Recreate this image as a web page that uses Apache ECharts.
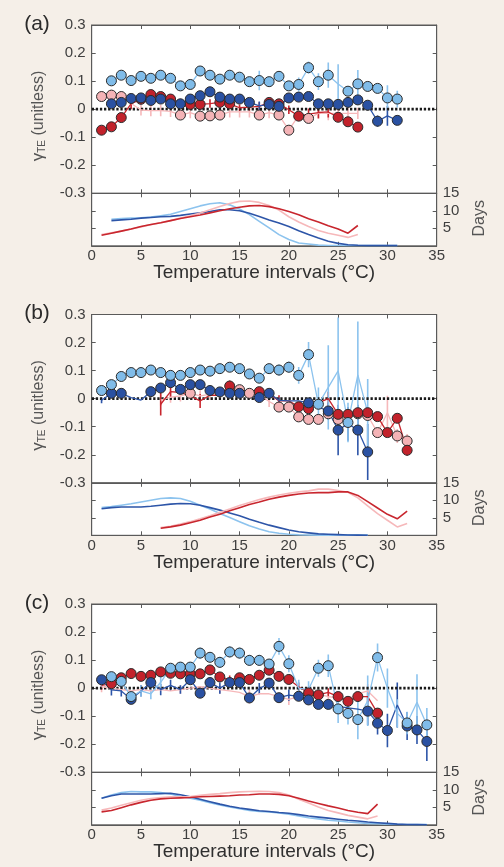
<!DOCTYPE html>
<html><head><meta charset="utf-8">
<script src="https://cdn.jsdelivr.net/npm/echarts@6/dist/echarts.min.js"></script>
<style>html,body{margin:0;padding:0;background:#f5efe8}#c{width:504px;height:867px}</style>
</head><body><div id="c"></div>
<script>
// ---------- DATA (index 0 = 1 °C interval) ----------
const xTicks = [0, 5, 10, 15, 20, 25, 30, 35];
const yTicksUpper = [-0.3, -0.2, -0.1, 0, 0.1, 0.2, 0.3];
const yTicksDays = [5, 10, 15];

// Panel (a) – gamma_TE
const a_lb = [null,0.101,0.121,0.102,0.117,0.110,0.121,0.110,0.083,0.088,0.136,0.121,0.107,0.121,0.114,0.098,0.102,0.098,0.117,0.083,0.088,0.148,0.098,0.121,0.090,0.064,0.090,0.081,0.074,0.040,0.036];
const a_lb_sig = [2,3,4,5,6,7,8,9,10,11,12,13,14,15,16,17,18,19,20,21,22,23,24,26,27,28,29,30,31];
const a_lb_err = [[17,0.035],[21,0.025],[22,0.022],[23,0.03],[24,0.045],[25,0.07],[27,0.05],[30,0.045],[31,0.03]];
const a_db = [null,0.019,0.024,0.038,0.040,0.031,0.036,0.019,0.019,0.036,0.048,0.062,0.043,0.036,0.036,0.024,0.012,0.017,0.010,0.040,0.043,0.045,0.019,0.019,0.017,0.024,0.033,0.014,-0.043,-0.024,-0.040];
const a_db_sig = [2,3,4,5,6,7,8,9,10,11,12,13,14,15,16,18,19,20,21,22,23,24,25,26,27,28,29,31];
const a_db_err = [[17,0.015],[29,0.02],[30,0.035]];
const a_red = [-0.075,-0.063,-0.030,0.020,0.035,0.052,0.045,0.036,0.022,0.017,0.017,0.020,0.024,0.019,0.005,0.007,0.010,0.024,0.019,-0.002,-0.025,-0.018,-0.012,-0.010,-0.029,-0.045,-0.064];
const a_red_sig = [1,2,3,5,6,7,8,10,11,13,14,18,19,21,25,26,27];
const a_red_err = [[1,0.015],[4,0.02],[9,0.015],[12,0.015],[15,0.012],[16,0.012],[17,0.015],[20,0.015],[22,0.02],[23,0.02],[24,0.02]];
const a_pink = [0.045,0.050,0.045,0.020,-0.003,-0.005,-0.005,-0.008,-0.021,-0.012,-0.025,-0.024,-0.021,-0.010,-0.010,-0.010,-0.021,-0.012,-0.021,-0.075,-0.022,-0.033,-0.015,-0.015,-0.015,-0.015,-0.015];
const a_pink_sig = [1,2,3,9,11,12,13,17,19,20,22];
const a_pink_err = [[4,0.02],[5,0.02],[6,0.02],[7,0.02],[8,0.02],[10,0.02],[14,0.02],[15,0.02],[16,0.02],[18,0.02],[21,0.02],[23,0.02],[24,0.025],[25,0.02],[26,0.02],[27,0.02]];
// Panel (a) – days
const a_lb_days = [null,7.6,7.8,7.9,8.0,8.2,8.6,9.0,9.8,10.6,11.4,12.0,12.3,11.7,10.5,8.9,7.0,5.1,3.2,1.8,0.8,0.5,0.2,0.1,0.1,0.05,0.05,0.05,0.05,0.05,0.05];
const a_db_days = [null,7.2,7.4,7.6,7.9,8.1,8.3,8.4,8.7,9.1,9.4,9.8,10.3,10.3,10.0,9.3,8.4,7.4,6.5,5.5,4.3,3.2,2.2,1.3,0.7,0.3,0.15,0.05,0.05,0.05,0.05];
const a_red_days = [3.0,3.6,4.2,4.8,5.5,6.1,6.6,7.2,7.8,8.3,8.8,9.4,10.0,10.6,11.0,11.4,11.5,11.2,10.6,9.8,8.9,7.7,6.8,5.7,4.8,3.6,5.8];
const a_pink_days = [3.2,3.7,4.2,4.8,5.4,6.0,6.6,7.2,7.9,8.6,9.4,10.3,11.2,12.1,12.7,12.8,12.4,11.5,10.2,8.3,6.8,5.5,4.4,3.6,3.0,2.4,3.2];

// Panel (b) – gamma_TE
const b_lb = [0.029,0.050,0.079,0.093,0.093,0.102,0.093,0.083,0.083,0.093,0.102,0.098,0.107,0.112,0.107,0.088,0.073,0.107,0.102,0.112,0.083,0.157,-0.020,0.040,0.099,-0.085,0.085,-0.050];
const b_lb_sig = [1,2,3,4,5,6,7,8,9,10,11,12,13,14,15,16,17,18,19,20,21,22,23,26];
const b_lb_err = [[19,0.02],[20,0.02],[21,0.03],[22,0.045],[23,0.06],[24,0.15],[25,0.19],[26,0.07],[27,0.19],[28,0.12]];
const b_db = [-0.006,0.019,0.019,0.004,-0.005,0.025,0.038,0.057,0.033,0.050,0.050,0.029,0.024,0.019,0.019,0.010,0.004,0.019,-0.006,-0.008,-0.008,-0.015,-0.030,-0.044,-0.112,-0.090,-0.112,-0.190];
const b_db_sig = [2,3,6,7,8,9,10,11,12,13,14,15,17,18,22,24,25,27,28];
const b_db_err = [[1,0.01],[19,0.01],[24,0.03],[25,0.09],[26,0.06],[27,0.09],[28,0.1]];
const b_red = [null,null,null,null,null,null,-0.020,0.025,0.022,0.010,-0.008,0.012,0.012,0.045,0.020,0.008,0.025,0.018,-0.008,-0.008,-0.029,-0.036,-0.015,0.000,-0.056,-0.056,-0.050,-0.050,-0.064,-0.121,-0.070,-0.184];
const b_red_sig = [14,17,21,22,25,26,27,28,29,30,31,32];
const b_red_err = [[7,0.04],[8,0.02],[11,0.025],[14,0.02],[17,0.015],[18,0.015],[19,0.02],[24,0.025],[30,0.015],[31,0.015],[32,0.02]];
const b_pink = [null,null,null,null,null,null,-0.005,0.005,0.010,0.019,0.010,0.015,0.015,0.033,0.032,0.019,0.015,-0.010,-0.030,-0.030,-0.065,-0.074,-0.074,-0.054,-0.074,-0.060,-0.054,-0.060,-0.121,-0.050,-0.133,-0.151];
const b_pink_sig = [10,15,16,19,20,21,22,23,24,25,27,28,29,31,32];
const b_pink_err = [[7,0.02],[8,0.02],[9,0.02],[11,0.02],[12,0.02],[13,0.02],[14,0.02],[17,0.02],[18,0.02],[26,0.02],[28,0.02],[30,0.06],[31,0.025],[32,0.025]];
// Panel (b) – days
const b_lb_days = [7.9,8.2,8.6,9.0,9.5,10.0,10.5,10.7,10.5,9.7,8.6,7.5,6.2,5.1,3.9,2.7,1.8,1.0,0.6,0.3,0.15,0.1,0.05,0.05,0.05,0.05,0.05,0.05];
const b_db_days = [7.6,7.9,8.1,8.1,8.1,8.3,8.6,8.9,9.1,9.0,8.6,7.9,7.2,6.4,5.6,4.6,3.7,2.9,2.2,1.5,1.0,0.7,0.4,0.3,0.2,0.1,0.05,0.0];
const b_red_days = [null,null,null,null,null,null,2.0,2.4,2.9,3.6,4.3,5.2,6.0,7.0,7.9,8.8,9.5,10.3,10.9,11.4,11.8,12.1,12.2,12.2,12.4,12.4,11.4,9.6,7.8,6.0,4.7,6.9];
const b_pink_days = [null,null,null,null,null,null,2.2,2.6,3.2,3.9,4.7,5.6,6.6,7.5,8.5,9.4,10.2,10.9,11.5,12.0,12.4,12.7,13.2,13.2,12.8,12.3,10.7,8.4,6.2,4.3,2.4,3.4];

// Panel (c) – gamma_TE
const c_lb = [0.020,0.041,0.024,-0.030,-0.010,-0.020,0.021,0.071,0.075,0.075,0.125,0.110,0.092,0.129,0.125,0.099,0.099,0.086,0.149,0.087,0.000,-0.005,0.071,0.080,-0.074,-0.090,-0.112,-0.045,0.109,0.000,-0.090,-0.124,-0.050,-0.131];
const c_lb_sig = [2,3,4,8,9,10,11,12,13,14,15,16,17,18,19,20,23,24,25,26,27,29,32,34];
const c_lb_err = [[1,0.015],[5,0.02],[6,0.02],[7,0.02],[11,0.02],[13,0.02],[14,0.02],[15,0.02],[16,0.02],[17,0.02],[19,0.03],[20,0.03],[21,0.03],[22,0.03],[23,0.03],[24,0.04],[25,0.05],[26,0.04],[27,0.07],[28,0.09],[29,0.05],[30,0.07],[31,0.05],[32,0.04],[33,0.1],[34,0.06]];
const c_db = [0.030,-0.006,-0.010,-0.040,-0.010,0.020,-0.005,0.010,-0.005,0.030,-0.018,0.020,0.000,0.020,0.020,-0.035,-0.002,0.018,-0.034,-0.025,-0.029,-0.042,-0.058,-0.058,-0.065,-0.070,-0.075,-0.082,-0.125,-0.151,-0.060,-0.135,-0.149,-0.190];
const c_db_sig = [1,4,6,10,11,12,14,15,16,18,19,21,22,23,24,28,29,30,32,33,34];
const c_db_err = [[1,0.015],[2,0.02],[3,0.02],[5,0.02],[7,0.02],[8,0.02],[9,0.015],[13,0.02],[17,0.02],[20,0.02],[28,0.05],[29,0.04],[30,0.06],[31,0.08],[32,0.05],[33,0.05],[34,0.07]];
const c_red = [0.010,0.016,0.037,0.052,0.042,0.046,0.058,0.053,0.051,0.051,0.051,0.065,0.040,0.030,0.037,0.031,0.046,0.064,0.042,0.031,0.005,-0.017,-0.024,-0.015,-0.030,-0.047,-0.030,-0.030,-0.089];
const c_red_sig = [2,3,4,5,6,7,8,9,10,11,12,13,15,16,17,18,19,20,22,23,25,26,27,29];
const c_red_err = [[1,0.015],[14,0.015],[21,0.015],[24,0.015],[28,0.02]];
const c_pink = [0.005,0.000,-0.005,-0.010,-0.005,-0.010,-0.005,-0.010,-0.005,0.000,0.005,0.000,-0.005,-0.010,-0.015,-0.030,-0.020,-0.020,-0.030,-0.040,-0.030,-0.020,-0.020,-0.030,-0.035,-0.040,-0.020,-0.010,-0.045];
const c_pink_sig = [];
const c_pink_err = [[1,0.02],[5,0.015],[9,0.015],[13,0.015],[16,0.025],[20,0.02],[24,0.02],[28,0.025]];
// Panel (c) – days
const c_lb_days = [7.6,8.5,9.2,9.5,9.4,9.4,9.2,8.8,8.1,7.6,7.0,6.3,5.7,5.1,4.6,4.1,3.8,3.7,3.4,3.0,2.5,2.0,1.7,1.3,1.1,0.8,0.6,0.4,0.3,0.2,0.1,0.05,0.05,0.05];
const c_db_days = [7.6,8.3,8.8,8.8,8.8,8.8,8.9,9.0,8.6,8.0,7.3,6.6,5.9,5.3,4.8,4.4,4.0,3.8,3.5,3.3,2.9,2.5,2.2,1.9,1.6,1.3,1.1,0.8,0.6,0.4,0.2,0.1,0.05,0.0];
const c_red_days = [3.7,4.1,4.9,5.7,6.4,7.0,7.4,7.6,7.7,7.8,8.0,8.1,8.2,8.3,8.5,8.6,8.8,8.8,8.7,8.3,7.6,6.8,6.1,5.4,4.8,4.1,3.6,3.2,5.9];
const c_pink_days = [4.2,4.8,5.6,6.3,7.0,7.5,7.8,8.0,8.0,8.1,8.4,8.7,8.9,9.2,9.4,9.5,9.6,9.5,9.2,8.5,7.3,6.2,5.1,4.1,3.4,2.7,2.2,1.7,2.5];

const panelLabels = ['(a)', '(b)', '(c)'];
const xTitle = 'Temperature intervals (°C)';

// ---------- BUILD ----------
const FONT = "'Liberation Sans', Arial, Helvetica, sans-serif";
const TXT = '#3f3f3f', AX = '#5a5a5a';
const L = 91.7, W = 345, UH = 168.3, LH = 52.5;
const TOPS = [25, 314.5, 604];
const COL = {lb:'#80bce9', db:'#2a51a2', red:'#c2222b', pink:'#f4b3b6'};
const LCOL = {lb:'#8cc3ee', db:'#2d55a8', red:'#c8262e', pink:'#f6b8ba'};

const panels = [
  {up:{pink:[a_pink,a_pink_sig,a_pink_err], red:[a_red,a_red_sig,a_red_err], db:[a_db,a_db_sig,a_db_err], lb:[a_lb,a_lb_sig,a_lb_err]},
   low:{lb:a_lb_days, db:a_db_days, pink:a_pink_days, red:a_red_days}},
  {up:{pink:[b_pink,b_pink_sig,b_pink_err], red:[b_red,b_red_sig,b_red_err], db:[b_db,b_db_sig,b_db_err], lb:[b_lb,b_lb_sig,b_lb_err]},
   low:{lb:b_lb_days, db:b_db_days, pink:b_pink_days, red:b_red_days}},
  {up:{pink:[c_pink,c_pink_sig,c_pink_err], red:[c_red,c_red_sig,c_red_err], db:[c_db,c_db_sig,c_db_err], lb:[c_lb,c_lb_sig,c_lb_err]},
   low:{lb:c_lb_days, db:c_db_days, pink:c_pink_days, red:c_red_days}}
];

function toPts(arr){ const o=[]; arr.forEach((v,i)=>{ if(v!==null && v!==undefined) o.push([i+1,v]); }); return o; }

const grids=[], xAxes=[], yAxes=[], series=[], graphics=[];
const lblStyle = {color:TXT, fontFamily:FONT, fontSize:15};

panels.forEach((P,p)=>{
  const top = TOPS[p];
  const gU = grids.length;
  grids.push({left:L, top:top, width:W, height:UH, show:true, backgroundColor:'#fff', borderColor:AX, borderWidth:1});
  const gL = grids.length;
  grids.push({left:L, top:top+UH, width:W, height:LH, show:true, backgroundColor:'#fff', borderColor:AX, borderWidth:1});

  [gU,gL].forEach(g=>{
    const isLow = g===gL;
    ['bottom','top'].forEach(pos=>{
      xAxes.push({gridIndex:g, type:'value', min:xTicks[0], max:xTicks[xTicks.length-1], interval:5, position:pos,
        axisLine:{show:true, onZero:false, lineStyle:{color:AX, width:1}},
        axisTick:{show:true, inside:true, length:4, lineStyle:{color:AX}},
        axisLabel:{show: isLow && pos==='bottom', margin:3, ...lblStyle},
        splitLine:{show:false}});
    });
    ['left','right'].forEach(pos=>{
      const ax = {gridIndex:g, type:'value', position:pos,
        axisLine:{show:true, onZero:false, lineStyle:{color:AX, width:1}},
        axisTick:{show:true, inside:true, length:4, lineStyle:{color:AX}},
        splitLine:{show:false}};
      if(!isLow){
        ax.min = yTicksUpper[0]; ax.max = yTicksUpper[yTicksUpper.length-1]; ax.interval = 0.1;
        ax.axisLabel = {show: pos==='left', margin:6, ...lblStyle,
          formatter:v=>{ const r=Math.round(v*10)/10; return r===0?'0':r.toFixed(1); }};
      } else {
        ax.min = 0; ax.max = yTicksDays[yTicksDays.length-1]; ax.interval = 5;
        ax.axisLabel = {show: pos==='right', margin:6, ...lblStyle,
          formatter:v=> yTicksDays.includes(v) ? String(v) : ''};
      }
      yAxes.push(ax);
    });
  });

  const xU = gU*2, yU = gU*2, xL = gL*2, yLl = gL*2;

  // zero dotted line
  series.push({type:'line', xAxisIndex:xU, yAxisIndex:yU, data:[[0,0],[35,0]], showSymbol:false, silent:true, z:2,
    lineStyle:{color:'#1a1a1a', width:2.6, type:[2.3,1.8]}});

  const order = ['pink','red','db','lb'];
  // error bars
  order.forEach(k=>{
    const [vals,sig,err] = P.up[k];
    const data = err.map(([x,e])=>[x, vals[x-1], e]).filter(d=>d[1]!==null);
    series.push({type:'custom', xAxisIndex:xU, yAxisIndex:yU, data, z:2, silent:true, clip:true,
      encode:{x:0,y:1},
      renderItem:(params,api)=>{
        const x=api.value(0), v=api.value(1), e=api.value(2);
        const a=api.coord([x,v-e]), b=api.coord([x,v+e]);
        return {type:'line', shape:{x1:a[0],y1:a[1],x2:b[0],y2:b[1]}, style:{stroke:LCOL[k], lineWidth:1.6}};
      }});
  });
  // lines
  order.forEach(k=>{
    const [vals] = P.up[k];
    series.push({type:'line', xAxisIndex:xU, yAxisIndex:yU, data:toPts(vals), showSymbol:false, silent:true, z:3,
      lineStyle:{color:LCOL[k], width:1.3}});
  });
  // markers
  order.forEach(k=>{
    const [vals,sig] = P.up[k];
    const data = sig.map(x=>[x, vals[x-1]]);
    series.push({type:'scatter', xAxisIndex:xU, yAxisIndex:yU, data, symbol:'circle', symbolSize:10, silent:true, z:4,
      itemStyle:{color:COL[k], borderColor:'#2b2b2b', borderWidth:1, opacity:1}});
  });
  // days
  ['lb','db','pink','red'].forEach(k=>{
    series.push({type:'line', xAxisIndex:xL, yAxisIndex:yLl, data:toPts(P.low[k]), showSymbol:false, silent:true, z:3,
      lineStyle:{color:LCOL[k], width:1.6}});
  });

  graphics.push({type:'text', x:37, y:top-1, silent:true,
    style:{text:panelLabels[p], font:'21px '+FONT, fill:'#2a2a2a', align:'center', verticalAlign:'middle'}});
  graphics.push({type:'text', x:37, y:top+91, rotation:Math.PI/2, silent:true,
    style:{text:'{g|γ}{s|TE}{n| (unitless)}', align:'center', verticalAlign:'middle', fill:'#555',
      rich:{g:{fontSize:17, fontFamily:FONT, fill:'#555', lineHeight:20, verticalAlign:'bottom'},
            s:{fontSize:10, fontFamily:FONT, fill:'#555', lineHeight:20, verticalAlign:'bottom'},
            n:{fontSize:16, fontFamily:FONT, fill:'#555', lineHeight:20, verticalAlign:'bottom'}}}});
  graphics.push({type:'text', x:480, y:top+UH+25, rotation:Math.PI/2, silent:true,
    style:{text:'Days', font:'16px '+FONT, fill:'#555', align:'center', verticalAlign:'middle'}});
  graphics.push({type:'text', x:L+W/2, y:top+248, silent:true,
    style:{text:xTitle, font:'19px '+FONT, fill:'#2f2f2f', align:'center', verticalAlign:'middle'}});
});

const chart = echarts.init(document.getElementById('c'), null, {renderer:'canvas'});
chart.setOption({
  backgroundColor:'#f5efe8', animation:false,
  grid:grids, xAxis:xAxes, yAxis:yAxes, series, graphic:graphics
});
</script></body></html>
